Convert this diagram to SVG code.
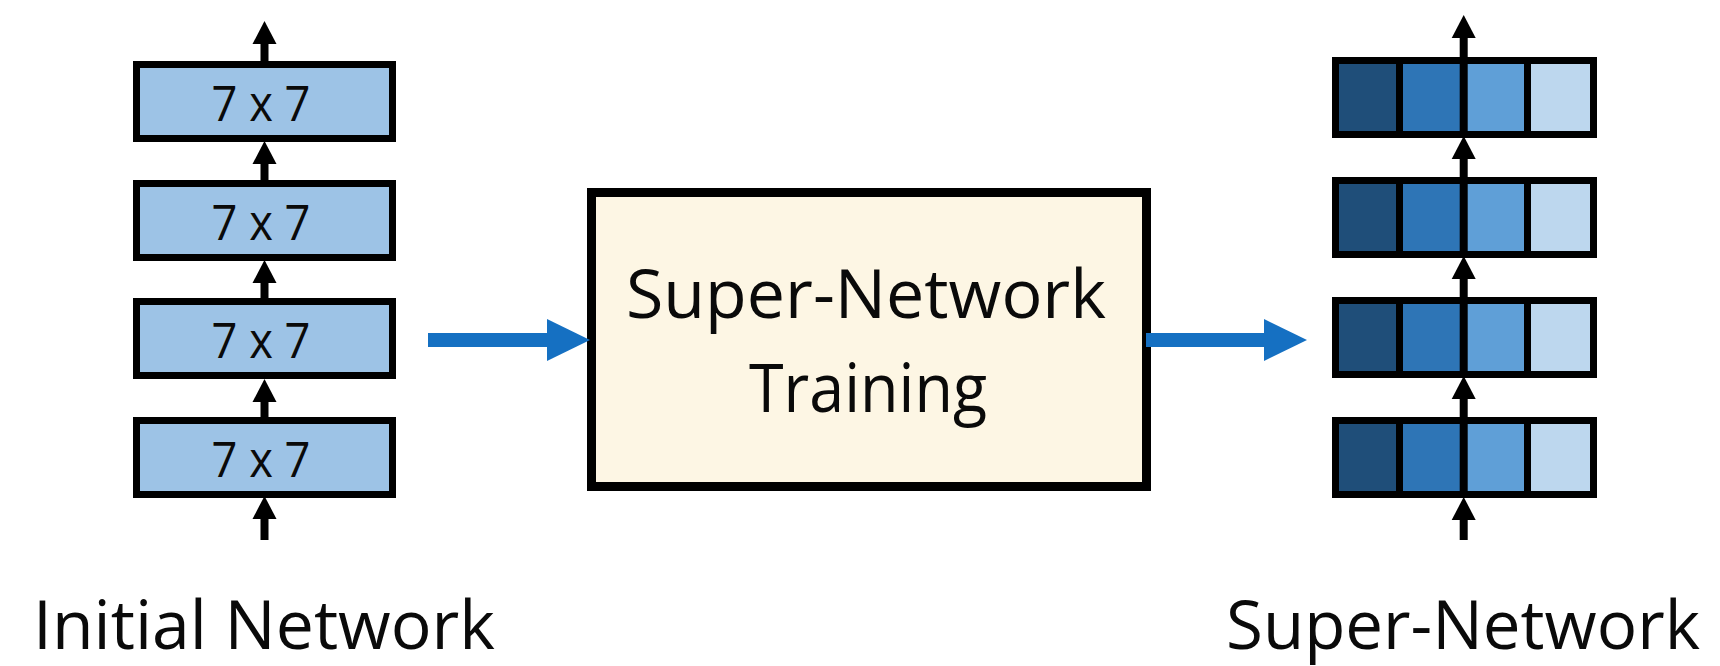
<svg xmlns="http://www.w3.org/2000/svg" width="1720" height="666" viewBox="0 0 1720 666">
  <style>
    .txt { font-family: "Open Sans", "Liberation Sans", sans-serif; fill: #0a0a0a; }
    .big { font-size: 67px; }
    .cell-label { font-size: 49px; text-anchor: middle; }
    .layer { fill: #9dc3e6; stroke: #000; stroke-width: 7; }
    .frame { fill: #000; }
    .c1 { fill: #1f4e79; }
    .c2 { fill: #2e75b6; }
    .c3 { fill: #5f9fd7; }
    .c4 { fill: #bdd7ee; }
    .flow { stroke: #000; stroke-width: 8; fill: none; }
    .stage { stroke: #1570c2; stroke-width: 14; fill: none; }
  </style>
  <defs>
    <marker id="headBlack" markerUnits="userSpaceOnUse" markerWidth="23" markerHeight="24" refX="0" refY="12" orient="auto" overflow="visible">
      <path d="M0,0 L23,12 L0,24 Z" fill="#000"/>
    </marker>
    <marker id="headBlue" markerUnits="userSpaceOnUse" markerWidth="43" markerHeight="42" refX="0" refY="21" orient="auto" overflow="visible">
      <path d="M0,0 L43,21 L0,42 Z" fill="#1570c2"/>
    </marker>
  </defs>

  <rect width="1720" height="666" fill="#fff"/>

  <!-- initial network: four 7x7 layers -->
  <g id="init-layer-1">
    <rect class="layer" x="136.5" y="64.5" width="256" height="74"/>
    <text class="txt cell-label" x="261" y="121" textLength="99" lengthAdjust="spacingAndGlyphs">7 x 7</text>
  </g>
  <g id="init-layer-2">
    <rect class="layer" x="136.5" y="183.5" width="256" height="74"/>
    <text class="txt cell-label" x="261" y="240" textLength="99" lengthAdjust="spacingAndGlyphs">7 x 7</text>
  </g>
  <g id="init-layer-3">
    <rect class="layer" x="136.5" y="301.5" width="256" height="74"/>
    <text class="txt cell-label" x="261" y="358" textLength="99" lengthAdjust="spacingAndGlyphs">7 x 7</text>
  </g>
  <g id="init-layer-4">
    <rect class="layer" x="136.5" y="420.5" width="256" height="74"/>
    <text class="txt cell-label" x="261" y="477" textLength="99" lengthAdjust="spacingAndGlyphs">7 x 7</text>
  </g>

  <!-- training stage -->
  <g id="training">
    <rect x="591.5" y="192.5" width="555" height="294" fill="#fdf6e4" stroke="#000" stroke-width="9"/>
    <text class="txt big" x="626" y="318" textLength="480" lengthAdjust="spacingAndGlyphs">Super-Network</text>
    <text class="txt big" x="749" y="412" textLength="238" lengthAdjust="spacingAndGlyphs">Training</text>
  </g>

  <!-- super-network: four layers with four kernel choices each -->
  <g id="super-layer-1">
    <rect class="frame" x="1332" y="57" width="265" height="81"/>
    <rect class="c1" x="1339" y="64" width="57" height="67"/>
    <rect class="c2" x="1403" y="64" width="57" height="67"/>
    <rect class="c3" x="1467" y="64" width="57" height="67"/>
    <rect class="c4" x="1531" y="64" width="59" height="67"/>
  </g>
  <g id="super-layer-2">
    <rect class="frame" x="1332" y="177" width="265" height="81"/>
    <rect class="c1" x="1339" y="184" width="57" height="67"/>
    <rect class="c2" x="1403" y="184" width="57" height="67"/>
    <rect class="c3" x="1467" y="184" width="57" height="67"/>
    <rect class="c4" x="1531" y="184" width="59" height="67"/>
  </g>
  <g id="super-layer-3">
    <rect class="frame" x="1332" y="297" width="265" height="81"/>
    <rect class="c1" x="1339" y="304" width="57" height="67"/>
    <rect class="c2" x="1403" y="304" width="57" height="67"/>
    <rect class="c3" x="1467" y="304" width="57" height="67"/>
    <rect class="c4" x="1531" y="304" width="59" height="67"/>
  </g>
  <g id="super-layer-4">
    <rect class="frame" x="1332" y="417" width="265" height="81"/>
    <rect class="c1" x="1339" y="424" width="57" height="67"/>
    <rect class="c2" x="1403" y="424" width="57" height="67"/>
    <rect class="c3" x="1467" y="424" width="57" height="67"/>
    <rect class="c4" x="1531" y="424" width="59" height="67"/>
  </g>

  <!-- captions -->
  <g id="caption-initial">
    <text class="txt big" x="33" y="649" textLength="462" lengthAdjust="spacingAndGlyphs">Initial Network</text>
  </g>
  <g id="caption-super">
    <text class="txt big" x="1226" y="649" textLength="474" lengthAdjust="spacingAndGlyphs">Super-Network</text>
  </g>

  <g id="connectors">
    <!-- data flow through the initial network -->
    <line class="flow" x1="264.5" y1="540" x2="264.5" y2="519" marker-end="url(#headBlack)"/>
    <line class="flow" x1="264.5" y1="417" x2="264.5" y2="402" marker-end="url(#headBlack)"/>
    <line class="flow" x1="264.5" y1="298" x2="264.5" y2="283" marker-end="url(#headBlack)"/>
    <line class="flow" x1="264.5" y1="180" x2="264.5" y2="164" marker-end="url(#headBlack)"/>
    <line class="flow" x1="264.5" y1="61" x2="264.5" y2="44" marker-end="url(#headBlack)"/>

    <!-- data flow through the super-network -->
    <line class="flow" x1="1463.7" y1="540" x2="1463.7" y2="520" marker-end="url(#headBlack)"/>
    <line class="flow" x1="1463.7" y1="498" x2="1463.7" y2="399" marker-end="url(#headBlack)"/>
    <line class="flow" x1="1463.7" y1="377" x2="1463.7" y2="279" marker-end="url(#headBlack)"/>
    <line class="flow" x1="1463.7" y1="257" x2="1463.7" y2="159" marker-end="url(#headBlack)"/>
    <line class="flow" x1="1463.7" y1="137" x2="1463.7" y2="38" marker-end="url(#headBlack)"/>

    <!-- stage transitions -->
    <line class="stage" x1="428" y1="340" x2="547" y2="340" marker-end="url(#headBlue)"/>
    <line class="stage" x1="1146" y1="340" x2="1264" y2="340" marker-end="url(#headBlue)"/>
  </g>
</svg>
